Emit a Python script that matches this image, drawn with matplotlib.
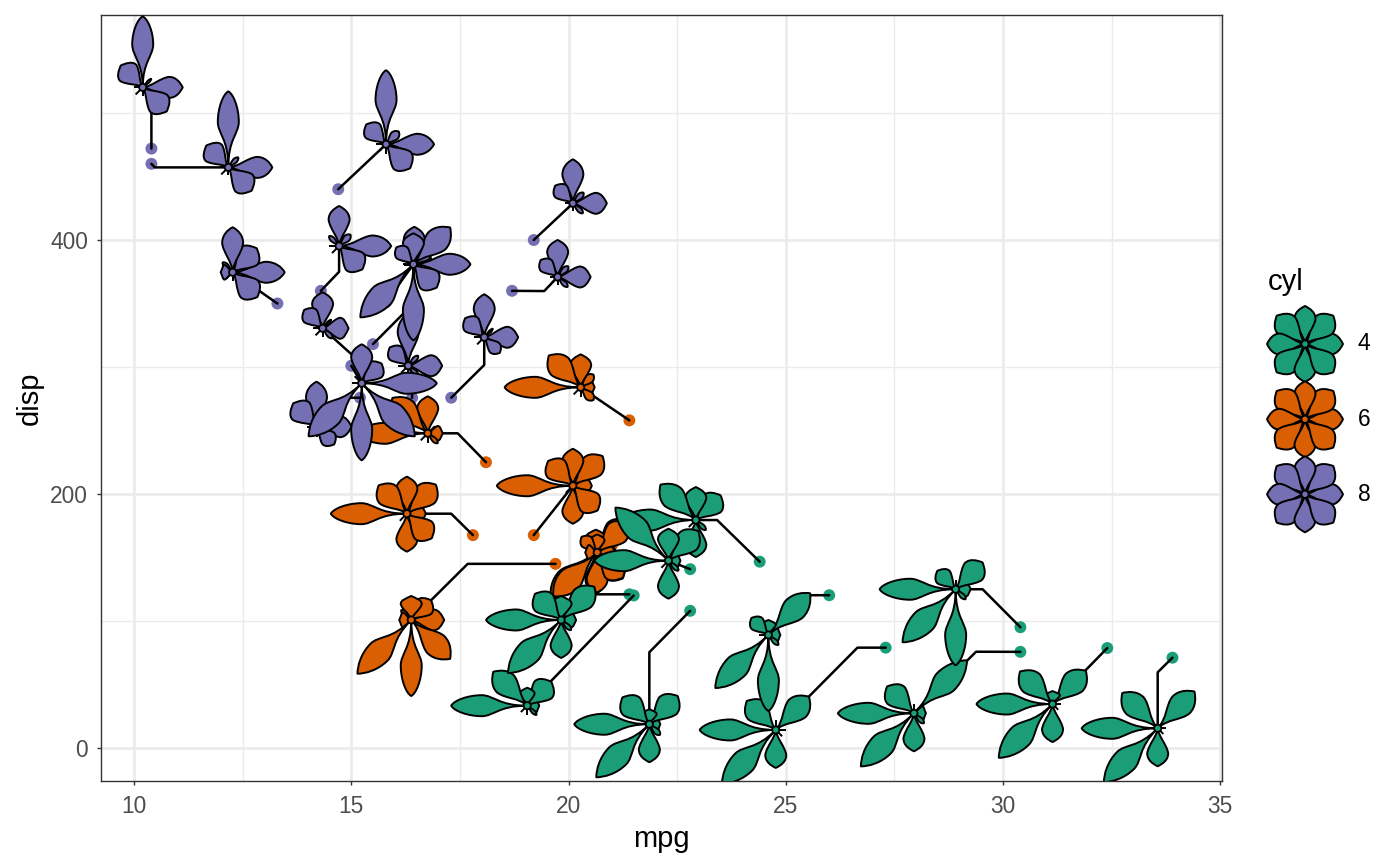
import numpy as np
import matplotlib
matplotlib.use('Agg')
import matplotlib.pyplot as plt
from matplotlib.path import Path
from matplotlib.patches import PathPatch, Circle
from matplotlib.transforms import Affine2D, ScaledTranslation

plt.rcParams['font.family'] = ['Liberation Sans', 'DejaVu Sans']

# mtcars rows, in drawing order
cars = ['RX4', 'RX4 Wag', 'Datsun', 'Hornet', 'Sportabout', 'Valiant', 'Duster', '240D',
        '230', '280', '280C', '450SE', '450SL', '450SLC', 'Cadillac', 'Lincoln',
        'Chrysler', 'Fiat', 'Honda', 'Corolla', 'Corona', 'Dodge', 'AMC', 'Camaro',
        'Pontiac', 'X1-9', 'Porsche', 'Lotus', 'Ford', 'Ferrari', 'Maserati', 'Volvo']
mpg = [21, 21, 22.8, 21.4, 18.7, 18.1, 14.3, 24.4, 22.8, 19.2, 17.8, 16.4, 17.3, 15.2, 10.4, 10.4,
       14.7, 32.4, 30.4, 33.9, 21.5, 15.5, 15.2, 13.3, 19.2, 27.3, 26, 30.4, 15.8, 19.7, 15, 21.4]
disp = [160, 160, 108, 258, 360, 225, 360, 146.7, 140.8, 167.6, 167.6, 275.8, 275.8, 275.8, 472, 460,
        440, 78.7, 75.7, 71.1, 120.1, 318, 304, 350, 400, 79, 120.3, 95.1, 351, 145, 301, 121]
cyl = [6, 6, 4, 6, 8, 6, 8, 4, 4, 6, 6, 8, 8, 8, 8, 8,
       8, 4, 4, 4, 4, 8, 8, 8, 8, 4, 4, 4, 8, 6, 8, 4]

# where each flower ended up after repelling
flower_x = [20.63, 20.66, 21.86, 20.28, 19.75, 16.76, 14.72, 22.93, 22.30, 20.10, 16.28, 16.31, 18.06, 14.20, 10.20, 12.17,
            15.80, 31.14, 27.95, 33.56, 19.05, 16.45, 14.34, 12.27, 20.10, 24.77, 24.60, 28.91, 16.43, 16.38, 15.24, 19.83]
flower_y = [154.6, 154, 18.7, 284, 370.9, 247.8, 395.3, 179.5, 147.5, 206.5, 184.5, 301, 323.4, 253, 520.2, 457.2,
            475.4, 34.6, 27.3, 15.5, 33.3, 380.5, 330.5, 374.6, 428.9, 14.2, 89, 125, 380.9, 100.8, 287.2, 100.8]

# bend of the connector, None when it is straight
elbow_x = [None, None, 21.86, None, 19.44, 17.45, 14.72, 23.42, None, None, 17.30, 16.4, 18.06, 14.86, 10.4, 10.48,
           None, None, 29.38, 33.56, None, 16.43, None, None, None, 26.65, 25.56, 29.53, None, 17.68, None, 20.4]
elbow_y = [None, None, 75.4, None, 359.8, 247.8, 375, 179.5, None, None, 184.5, 295, 301.6, 275.8, 513, 457.2,
           None, None, 75.8, 59.6, None, 350, None, None, None, 79, 120.3, 125, None, 145, None, 121]

# petal lengths going round: E, NE, N, NW, W, SW, S, SE
petals = [
    [20, 44, 22, 20, 10, 64, 42, 38],
    [18, 42, 18, 22, 12, 62, 40, 36],
    [11, 40, 15, 38, 75, 75, 38, 15],
    [14, 18, 33, 45, 76, 10, 10, 18],
    [33, 15, 37, 24, 8, 8, 8, 14],
    [15, 10, 37, 50, 70, 10, 10, 14],
    [52, 16, 40, 14, 10, 10, 10, 33],
    [10, 35, 33, 50, 76, 10, 37, 14],
    [12, 42, 32, 75, 74, 10, 38, 14],
    [19, 42, 37, 35, 76, 10, 38, 35],
    [19, 41, 37, 40, 76, 10, 38, 35],
    [34, 14, 52, 26, 10, 10, 8, 14],
    [34, 12, 43, 27, 10, 10, 8, 22],
    [35, 10, 45, 33, 10, 10, 10, 25],
    [40, 12, 71, 31, 9, 10, 9, 34],
    [44, 14, 76, 31, 8, 10, 8, 33],
    [48, 18, 74, 28, 10, 10, 10, 34],
    [8, 47, 13, 46, 76, 76, 38, 8],
    [12, 75, 9, 38, 76, 75, 38, 14],
    [8, 52, 9, 50, 76, 76, 38, 8],
    [12, 34, 18, 48, 76, 9, 9, 13],
    [20, 22, 38, 20, 10, 10, 10, 22],
    [26, 12, 36, 26, 10, 10, 9, 14],
    [52, 34, 45, 14, 12, 9, 9, 35],
    [34, 15, 44, 25, 8, 8, 8, 14],
    [10, 47, 10, 41, 76, 76, 38, 9],
    [12, 59, 15, 24, 9, 75, 76, 14],
    [15, 38, 9, 26, 76, 75, 76, 14],
    [57, 52, 31, 24, 10, 75, 76, 33],
    [33, 28, 24, 14, 12, 76, 76, 55],
    [75, 28, 39, 10, 10, 75, 77, 75],
    [15, 47, 24, 37, 75, 75, 38, 14],
]

levels = [4, 6, 8]
colors = {4: '#1B9E77', 6: '#D95F02', 8: '#7570B3'}
legend_petal = [38, 40, 38, 40, 38, 40, 38, 40]
xticks = [10, 15, 20, 25, 30, 35]
yticks = [0, 200, 400]
xminor = [12.5, 17.5, 22.5, 27.5, 32.5]
yminor = [100, 300, 500]

M, L, C = Path.MOVETO, Path.LINETO, Path.CURVE4


def petal_path(length, diagonal):
    # petal pointing along +x, sizes in pixels
    if length <= 10:
        return Path([(0, 0), (length, 0)], [M, L])
    # long petals get a thin neck and a sharper tip, short ones are plain teardrops
    s = min(1, max(0, (length - 35) / 40))
    if diagonal:
        hw = 12 * min(1, (length - 10) / 22)
        last = (length - (0.18 + 0.27 * s) * hw, 0.45 * hw)
    else:
        hw = 10.5 * min(1, max(0.7, (length - 4) / 20))
        last = (length - 0.25 * hw, 0.5 * hw)
    belly = (0.66 - 0.06 * s) * length
    top = [((0.2 + 0.18 * s) * length, 0.08 * (1 - s) * hw),
           ((0.42 + 0.02 * s) * length, (0.85 + 0.15 * s) * hw), (belly, hw),
           (belly + 0.18 * length, hw), last, (length, 0)]
    verts = [(0, 0)] + top
    # back down the other side
    verts += [(x, -y) for x, y in top[-2::-1]] + [(0, 0)]
    codes = [M] + [C] * (len(verts) - 1)
    return Path(verts, codes)


def draw_flower(add, place, lengths, color):
    for i, length in enumerate(lengths):
        patch = PathPatch(petal_path(length, i % 2 == 1), facecolor=color, edgecolor='black',
                          lw=1.4, joinstyle='round',
                          transform=Affine2D().rotate_deg(45 * i) + place)
        add(patch, 3)
    add(Circle((0, 0), 3.6, facecolor=color, edgecolor='black', lw=1.3, transform=place), 3)


fig = plt.figure(figsize=(14, 8.66), dpi=100)
ax = fig.add_axes([101 / 1400, 85 / 866, 1121 / 1400, 766 / 866])
ax.set_xlim(9.24, 35.04)
ax.set_ylim(-26, 577.2)
ax.set_autoscale_on(False)

ax.set_xticks(xticks)
ax.set_yticks(yticks)
ax.set_xticks(xminor, minor=True)
ax.set_yticks(yminor, minor=True)
ax.grid(which='major', color='#EBEBEB', lw=1.9)
ax.grid(which='minor', color='#EBEBEB', lw=0.95)
ax.set_axisbelow(True)
ax.tick_params(which='minor', length=0)
ax.tick_params(axis='both', which='major', length=3.2, width=1.0, color='#333333', labelcolor='#4D4D4D',
               labelsize=16.4)
ax.tick_params(axis='x', which='major', pad=7)
ax.tick_params(axis='y', which='major', pad=6)
for spine in ax.spines.values():
    spine.set_color('#333333')
    spine.set_linewidth(1.0)
ax.set_xlabel('mpg', fontsize=21, labelpad=5)
ax.set_ylabel('disp', fontsize=21, labelpad=5)

ax.scatter(mpg, disp, s=74, c=[colors[c] for c in cyl], linewidths=0, zorder=2)

for i in range(len(cars)):
    xs = [mpg[i], flower_x[i]]
    ys = [disp[i], flower_y[i]]
    if elbow_x[i] is not None:
        xs.insert(1, elbow_x[i])
        ys.insert(1, elbow_y[i])
    ax.plot(xs, ys, color='black', lw=1.8, solid_capstyle='round', solid_joinstyle='round', zorder=2.5)


def add_to_ax(artist, z):
    artist.set_zorder(z)
    ax.add_patch(artist)


for i in range(len(cars)):
    place = ScaledTranslation(flower_x[i], flower_y[i], ax.transData)
    draw_flower(add_to_ax, place, petals[i], colors[cyl[i]])


def add_to_fig(artist, z):
    artist.set_zorder(z)
    fig.add_artist(artist)


# legend, drawn by hand in pixel positions
legend_y = [344, 419.3, 494.3]
for lev, py in zip(levels, legend_y):
    place = Affine2D().translate(1305, 866 - py)
    draw_flower(add_to_fig, place, legend_petal, colors[lev])
    fig.text(1358 / 1400, 1 - py / 866, str(lev), fontsize=16.4, va='center', ha='left')
fig.text(1268 / 1400, 1 - 282 / 866, 'cyl', fontsize=21, va='center', ha='left')

fig.savefig('out.png', dpi=100)
